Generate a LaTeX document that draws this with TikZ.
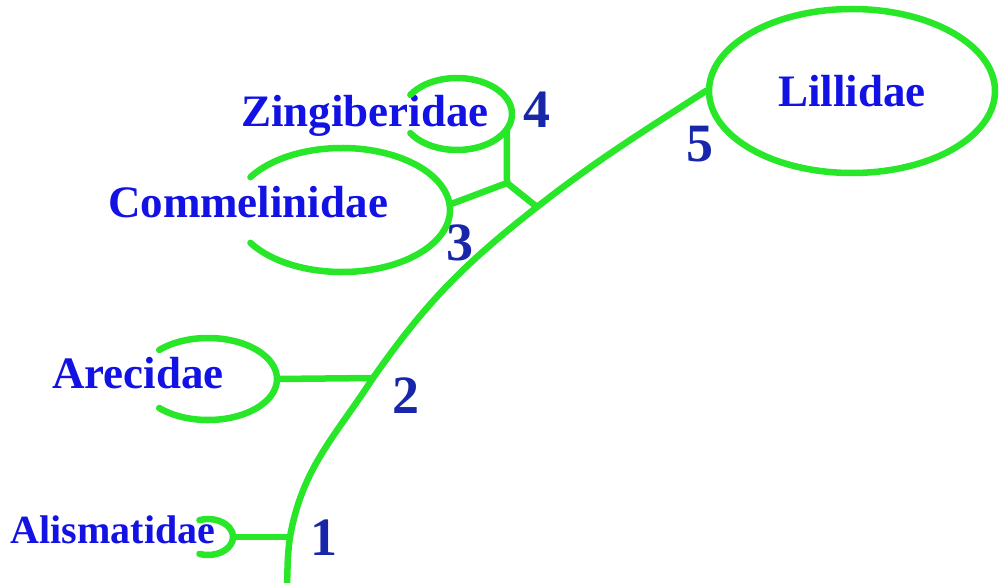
\documentclass[tikz,border=0pt]{standalone}
\usepackage{fontspec}
\setmainfont{Liberation Serif}
\usepackage{tikz}
\usetikzlibrary{shapes,positioning}
\definecolor{taxblue}{RGB}{18, 18, 228}
\definecolor{numblue}{RGB}{24, 38, 170}
\definecolor{leafgreen}{RGB}{40, 230, 40}
\tikzstyle{taxon} = [text=taxblue, inner sep=0pt, anchor=base, font=\fontsize{45}{50}\selectfont\bfseries]
\tikzstyle{num} = [text=numblue, inner sep=0pt, anchor=base, font=\fontsize{54}{60}\selectfont\bfseries]
\tikzstyle{branch} = [draw=leafgreen, line width=6.5pt, line cap=round]
\tikzstyle{clade} = [ellipse, draw=leafgreen, line width=6.5pt, inner sep=0pt, minimum width=286pt, minimum height=164pt, text=taxblue, font=\fontsize{45}{50}\selectfont\bfseries]

\begin{document}
\begin{tikzpicture}[x=1pt, y=1pt]
\useasboundingbox (0,0) rectangle (1000,582);

% trunk points =============================
\coordinate (root) at (287,-4);
\coordinate (b1) at (290,45);
\coordinate (b2) at (373,204);
\coordinate (b34) at (537,375);
\coordinate (j34) at (507,399);

% arc centres
\coordinate (alic) at (208,45);
\coordinate (arec) at (208,203);
\coordinate (comc) at (342,372);
\coordinate (zinc) at (457,468);

% clades
\node[clade] (lil) at (852,491) {Lillidae};

\node[taxon, font=\fontsize{40}{45}\selectfont\bfseries] (ali) at (113,39) {Alismatidae};
\node[taxon] (are) at (138,194) {Arecidae};
\node[taxon] (com) at (248,365) {Commelinidae};
\node[taxon] (zin) at (365,455) {Zingiberidae};

% numbers
\node[num] (n1) at (324,27) {1};
\node[num] (n2) at (406,169) {2};
\node[num] (n3) at (460,322) {3};
\node[num] (n4) at (537,454) {4};
\node[num] (n5) at (700,420) {5};

% open arcs round the names
\draw[branch] (alic) ++(110:25 and 18) arc[start angle=110, end angle=-110, x radius=25, y radius=18];
\draw[branch] (arec) ++(135:69 and 41) arc[start angle=135, end angle=-135, x radius=69, y radius=41];
\draw[branch] (comc) ++(148:108 and 62) arc[start angle=148, end angle=-148, x radius=108, y radius=62];
\draw[branch] (zinc) ++(148:55 and 36) arc[start angle=148, end angle=-148, x radius=55, y radius=36];

\path (alic) ++(0:25 and 18) coordinate (alie);
\path (arec) ++(0:69 and 41) coordinate (aree);
\path (comc) ++(5:108 and 62) coordinate (come);
\path (zinc) ++(-25:55 and 36) coordinate (zine);

%edges
\draw[branch] (root) to[out=88, in=262] (b1) to[out=80, in=237] (b2)
  to[out=55, in=218] (b34) to[out=38, in=213] (lil.west);
\draw[branch] (alie) -- (b1);
\draw[branch] (aree) -- (b2);
\draw[branch] (b34) -- (j34);
\draw[branch] (j34) -- (come);
\draw[branch] (j34) -- (zine);

\end{tikzpicture}
\end{document}
